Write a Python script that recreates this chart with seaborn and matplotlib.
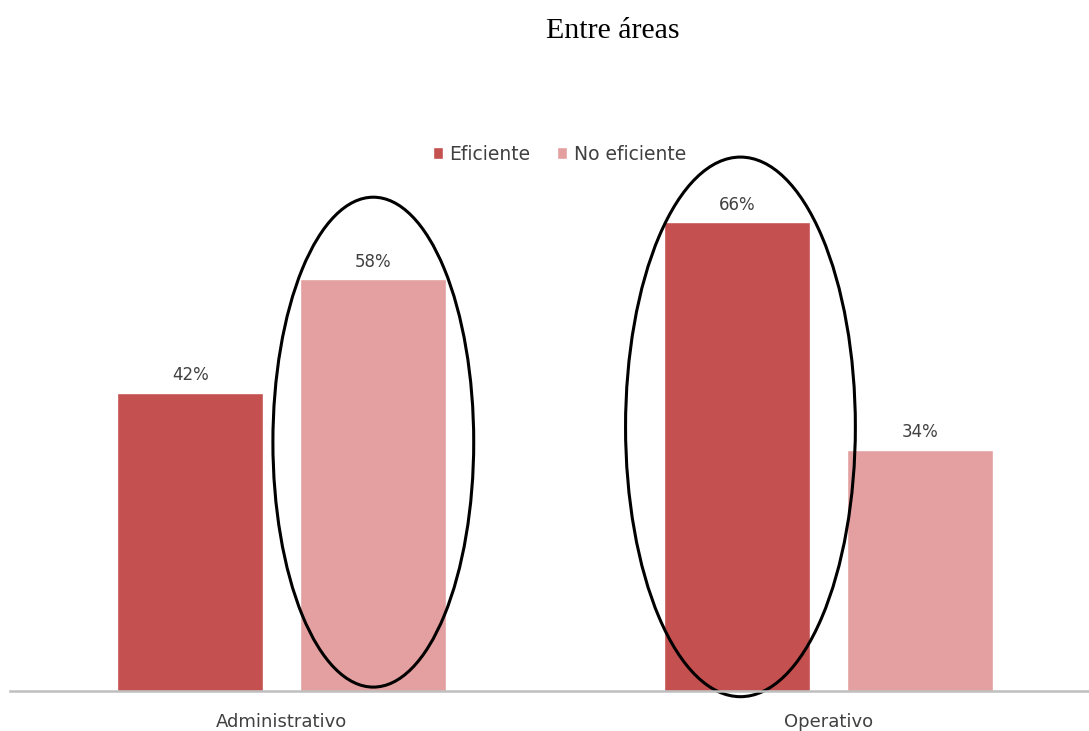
import matplotlib
matplotlib.use("Agg")
import matplotlib.pyplot as plt
from matplotlib.patches import Ellipse
import seaborn as sns
import pandas as pd

# Data
areas = ["Administrativo", "Operativo"]
series = ["Eficiente", "No eficiente"]
eficiente = [42, 66]
no_eficiente = [58, 34]
colors = ["#C4504F", "#E4A0A0"]

df = pd.DataFrame({
    "area": areas * 2,
    "serie": [series[0]] * 2 + [series[1]] * 2,
    "valor": eficiente + no_eficiente,
})

sns.set_style("white")
plt.rcParams["font.family"] = ["DejaVu Sans"]

fig = plt.figure(figsize=(10.89, 7.31), dpi=100)
ax = fig.add_axes([10 / 1089, 40 / 731, 1079 / 1089, 568 / 731])

sns.barplot(data=df, x="area", y="valor", hue="serie", order=areas,
            hue_order=series, palette=colors, width=0.667, gap=0.2,
            saturation=1, ax=ax, legend=True)

ax.set_ylim(0, 80)
ax.set_xlim(-0.496, 1.476)
ax.set_xlabel("")
ax.set_ylabel("")
ax.set_yticks([])
for s in ["top", "left", "right"]:
    ax.spines[s].set_visible(False)
ax.spines["bottom"].set_color("#BFBFBF")
ax.spines["bottom"].set_linewidth(1.8)
ax.tick_params(axis="x", length=0, pad=16, labelsize=13, colors="#404040")

# Value labels
for container in ax.containers:
    ax.bar_label(container, fmt="%d%%", padding=6, fontsize=12, color="#404040")

# Legend
ax.legend(loc="center", bbox_to_anchor=(0.509, 0.945), ncol=2, frameon=False,
          fontsize=13.5, handlelength=0.55, handleheight=0.55, handletextpad=0.35,
          columnspacing=1.4, labelcolor="#404040")

# Highlight ellipses around the largest bar in each group
ax.add_patch(Ellipse((0.168, 35.05), 0.367, 69.0, fill=False, edgecolor="black",
                     linewidth=2.2, clip_on=False))
ax.add_patch(Ellipse((0.839, 37.2), 0.42, 76.0, fill=False, edgecolor="black",
                     linewidth=2.2, clip_on=False))

fig.text(613 / 1089, 1 - 38 / 731, "Entre áreas", ha="center", va="baseline",
         fontsize=21.5, family="Liberation Serif", color="black")

fig.savefig("out.png", dpi=100)
